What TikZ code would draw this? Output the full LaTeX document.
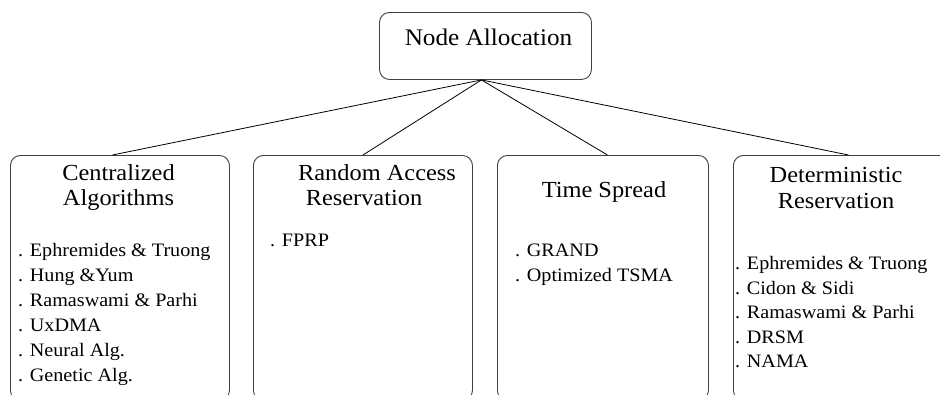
\documentclass[tikz,border=0pt]{standalone}
\usepackage{fontspec}
\setmainfont{Liberation Serif}[FakeStretch=1.06]
\newcommand\nodetitlefont{\fontsize{23.8}{28}\selectfont}
\newcommand\boxheadfont{\fontsize{23}{25}\selectfont}
\newcommand\boxitemfont{\fontsize{19}{25}\selectfont}
\tikzset{
  box/.style={draw=black!75, line width=0.9pt, rounded corners=10pt, inner sep=0pt, anchor=north west},
  head/.style={font=\boxheadfont, anchor=base, inner sep=0pt},
  item/.style={font=\boxitemfont, anchor=base west, inner sep=0pt},
  link/.style={draw=black, line width=0.8pt}
}
\begin{document}
\begin{tikzpicture}[x=1pt,y=-1pt]
\clip (0,0) rectangle (940,394);
\fill[white] (0,0) rectangle (940,394);
% top box
\node[box, minimum width=212pt, minimum height=67pt] (top) at (379,12) {};
\node[font=\nodetitlefont, anchor=base, inner sep=0pt] (title) at (488.5,45) {Node Allocation};
% lower boxes
\node[box, minimum width=219pt, minimum height=245pt] (b1) at (10,155) {};
\node[box, minimum width=219pt, minimum height=245pt] (b2) at (253,155) {};
\node[box, minimum width=211pt, minimum height=245pt] (b3) at (497,155) {};
\node[box, minimum width=217pt, minimum height=245pt] (b4) at (733,155) {};
% connectors
\coordinate (apex) at ([xshift=-4pt]top.south);
\draw[link] (apex) -- ([xshift=-7.5pt]b1.north);
\draw[link] (apex) -- (b2.north);
\draw[link] (apex) -- ([xshift=4.5pt]b3.north);
\draw[link] (apex) -- ([xshift=6.5pt]b4.north);
% headings
\node[head] (h1a) at (118.5,180) {Centralized};
\node[head] (h1b) at (118.5,205) {Algorithms};
\node[head] (h2a) at (377,180) {Random Access};
\node[head] (h2b) at (364,205) {Reservation};
\node[head] (h3a) at (604,197) {Time Spread};
\node[head] (h4a) at (836,182) {Deterministic};
\node[head] (h4b) at (836,208) {Reservation};
% items box 1
\foreach \t [count=\i] in {{. Ephremides \& Truong},{. Hung \&Yum},{. Ramaswami \& Parhi},{. UxDMA},{. Neural Alg.},{. Genetic Alg.}}
  \node[item] (i1\i) at (18,{256.5+25*(\i-1)}) {\t};
% items box 2
\node[item] (i21) at (270,246.5) {. FPRP};
% items box 3
\foreach \t [count=\i] in {{. GRAND},{. Optimized TSMA}}
  \node[item] (i3\i) at (515,{256.5+25*(\i-1)}) {\t};
% items box 4
\foreach \t [count=\i] in {{. Ephremides \& Truong},{. Cidon \& Sidi},{. Ramaswami \& Parhi},{. DRSM},{. NAMA}}
  \node[item] (i4\i) at (735,{269.5+24.5*(\i-1)}) {\t};
\end{tikzpicture}
\end{document}
